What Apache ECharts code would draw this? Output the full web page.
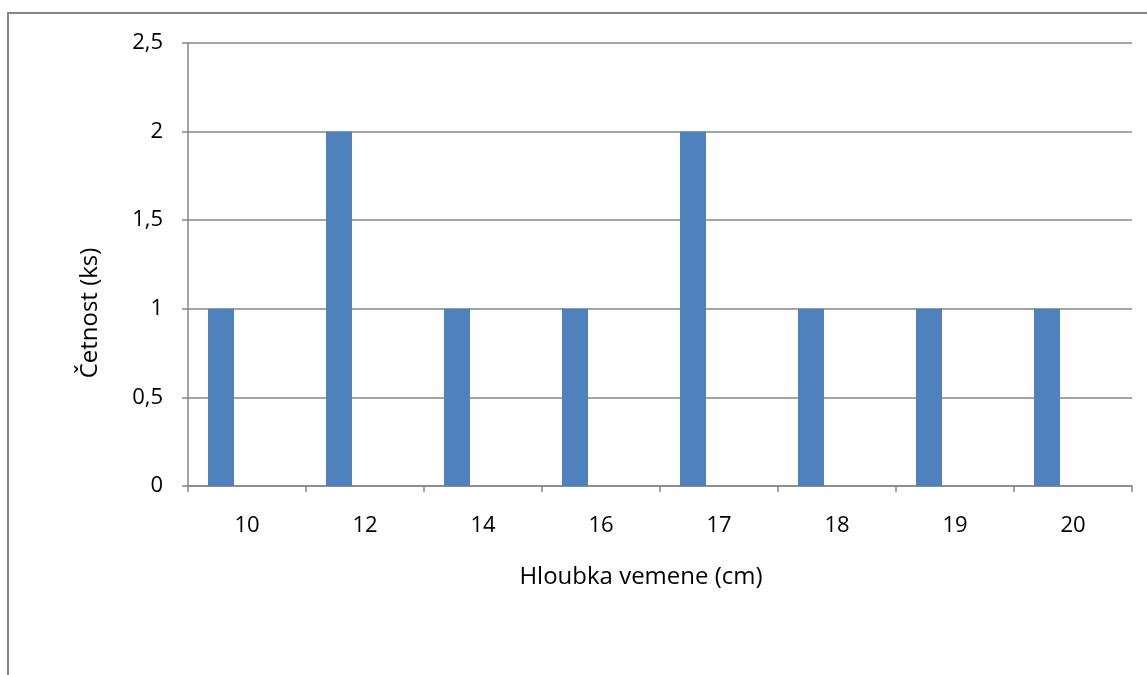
<!DOCTYPE html>
<html>
<head>
<meta charset="utf-8">
<script src="https://cdn.jsdelivr.net/npm/echarts@6/dist/echarts.min.js"></script>
<style>
  html, body { margin: 0; padding: 0; background: #ffffff; }
  #chart { width: 1147px; height: 675px; }
</style>
</head>
<body>
<div id="chart"></div>
<script>
// Udder depth histogram data
const categories = ['10', '12', '14', '16', '17', '18', '19', '20'];
const counts = [1, 2, 1, 1, 2, 1, 1, 1];
const yTicks = { min: 0, max: 2.5, interval: 0.5 };
const xTitle = 'Hloubka vemene (cm)';
const yTitle = 'Četnost (ks)';

const FONT = '"Open Sans"';
const GRID_COLOR = '#868686';
const BAR_COLOR = '#4F81BD';

const chart = echarts.init(document.getElementById('chart'), null, { renderer: 'canvas' });

// Two placeholder series keep the bar in the left third of each category slot
const emptySeries = () => ({
  type: 'bar',
  data: categories.map(() => null),
  barWidth: 26,
  barGap: '0%',
  silent: true
});

chart.setOption({
  animation: false,
  backgroundColor: '#ffffff',
  grid: { left: 188, right: 15, top: 43, bottom: 189, containLabel: false },
  graphic: [
    {
      type: 'rect',
      shape: { x: 8, y: 13, width: 1300, height: 800 },
      style: { fill: 'none', stroke: GRID_COLOR, lineWidth: 2 },
      silent: true
    },
    {
      type: 'text',
      x: 90,
      y: 313,
      rotation: Math.PI / 2,
      style: {
        text: yTitle,
        fontFamily: FONT,
        fontSize: 24,
        fill: '#000',
        align: 'center',
        verticalAlign: 'middle'
      },
      silent: true
    }
  ],
  xAxis: {
    type: 'category',
    data: categories,
    name: xTitle,
    nameLocation: 'middle',
    nameGap: 79,
    nameTextStyle: { fontFamily: FONT, fontSize: 24, color: '#000', padding: [0, 38, 0, 0] },
    axisLine: { show: true, lineStyle: { color: GRID_COLOR, width: 1.5 } },
    axisTick: { show: true, alignWithLabel: false, length: 6, lineStyle: { color: GRID_COLOR, width: 1.5 } },
    axisLabel: { fontFamily: FONT, fontSize: 22, color: '#000', margin: 29 },
    splitLine: { show: false }
  },
  yAxis: {
    type: 'value',
    min: yTicks.min,
    max: yTicks.max,
    interval: yTicks.interval,
    axisLine: { show: true, lineStyle: { color: GRID_COLOR, width: 1.5 } },
    axisTick: { show: true, length: 6, lineStyle: { color: GRID_COLOR, width: 1.5 } },
    axisLabel: {
      fontFamily: FONT, fontSize: 22, color: '#000', margin: 25,
      formatter: v => String(v).replace('.', ',')
    },
    splitLine: { show: true, lineStyle: { color: GRID_COLOR, width: 1.5 } }
  },
  series: [
    {
      type: 'bar',
      data: counts,
      barWidth: 26,
      barGap: '0%',
      itemStyle: { color: BAR_COLOR }
    },
    emptySeries(),
    emptySeries()
  ]
});
</script>
</body>
</html>
